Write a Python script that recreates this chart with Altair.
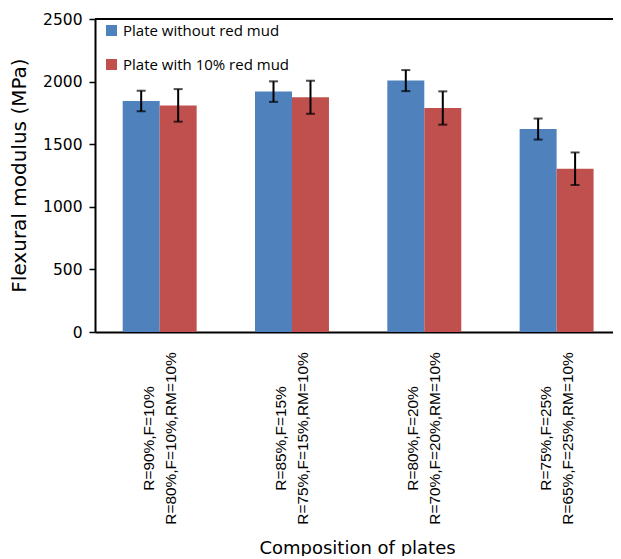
import altair as alt
import pandas as pd

categories = [
    "R=90%,F=10%|R=80%,F=10%,RM=10%",
    "R=85%,F=15%|R=75%,F=15%,RM=10%",
    "R=80%,F=20%|R=70%,F=20%,RM=10%",
    "R=75%,F=25%|R=65%,F=25%,RM=10%",
]
series = ["Plate without  red mud", "Plate with  10% red mud"]
without_rm = [1845, 1920, 2008, 1621]
err_without = [82, 82, 84, 84]
with_rm = [1810, 1875, 1789, 1304]
err_with = [130, 132, 133, 130]
y_ticks = [0, 500, 1000, 1500, 2000, 2500]
colors = ["#4F81BD", "#C0504D"]

rows = []
for c, v, e in zip(categories, without_rm, err_without):
    rows.append({"cat": c, "series": series[0], "value": v, "lo": v - e, "hi": v + e})
for c, v, e in zip(categories, with_rm, err_with):
    rows.append({"cat": c, "series": series[1], "value": v, "lo": v - e, "hi": v + e})
df = pd.DataFrame(rows)

x_enc = alt.X(
    "cat:N",
    sort=categories,
    scale=alt.Scale(paddingInner=0.441, paddingOuter=0.178, align=0.588),
    axis=alt.Axis(
        title="Composition of plates",
        labelExpr="split(datum.value, '|')",
        labelAngle=270,
        labelAlign="center",
        labelBaseline="middle",
        labelPadding=106,
        labelOffset=-11,
        labelLineHeight=22,
        labelFont="Liberation Sans",
        labelFontSize=15.4,
        labelColor="#000000",
        labelLimit=400,
        ticks=False,
        tickSize=0,
        domainColor="#000000",
        domainWidth=2,
        titleFont="DejaVu Sans",
        titleFontSize=18,
        titleFontWeight="normal",
        titleColor="#000000",
        titleX=262,
        titleY=216,
        titleAlign="center",
        titleBaseline="middle",
    ),
)
xoff = alt.XOffset("series:N", sort=series, scale=alt.Scale(paddingInner=0, paddingOuter=0))
y_scale = alt.Scale(domain=[0, 2500], nice=False)

bars = alt.Chart(df).mark_bar().encode(
    x=x_enc,
    xOffset=xoff,
    y=alt.Y(
        "value:Q",
        scale=y_scale,
        axis=alt.Axis(
            title="Flexural modulus (MPa)",
            values=y_ticks,
            format="d",
            grid=False,
            labelFont="DejaVu Sans",
            labelFontSize=15.5,
            labelColor="#000000",
            labelPadding=7,
            tickSize=6,
            tickColor="#000000",
            tickWidth=1.5,
            domainColor="#000000",
            domainWidth=2,
            titleFont="DejaVu Sans",
            titleFontSize=20,
            titleFontWeight="normal",
            titleColor="#000000",
            titleAngle=270,
            titleX=-76,
            titleY=156,
            titleAlign="center",
            titleBaseline="middle",
        ),
    ),
    color=alt.Color(
        "series:N",
        sort=series,
        scale=alt.Scale(domain=series, range=colors),
        legend=alt.Legend(
            title=None,
            orient="none",
            legendX=9,
            legendY=4,
            padding=0,
            symbolType="square",
            symbolSize=121,
            symbolStrokeWidth=0,
            labelFont="Open Sans",
            labelFontSize=15,
            labelColor="#000000",
            labelOffset=4,
            rowPadding=18,
            labelLimit=400,
        ),
    ),
)

rules = alt.Chart(df).mark_rule(color="#000000", strokeWidth=2).encode(
    x=alt.X("cat:N", sort=categories),
    xOffset=xoff,
    y=alt.Y("lo:Q", scale=y_scale),
    y2="hi:Q",
)
caps_hi = alt.Chart(df).mark_tick(color="#000000", thickness=2, size=9).encode(
    x=alt.X("cat:N", sort=categories),
    xOffset=xoff,
    y=alt.Y("hi:Q", scale=y_scale),
)
caps_lo = alt.Chart(df).mark_tick(color="#000000", thickness=2, size=9).encode(
    x=alt.X("cat:N", sort=categories),
    xOffset=xoff,
    y=alt.Y("lo:Q", scale=y_scale),
)
top_line = alt.Chart(pd.DataFrame({"y": [2500]})).mark_rule(color="#000000", strokeWidth=2).encode(
    y=alt.Y("y:Q", scale=y_scale)
)

chart = (
    alt.layer(bars, rules, caps_hi, caps_lo, top_line)
    .properties(
        width=518,
        height=313,
        autosize=alt.AutoSizeParams(type="none"),
        padding={"left": 87, "top": 11, "right": 0, "bottom": 224},
    )
    .configure_view(stroke=None)
    .configure(background="#ffffff")
)

chart.save("out.html", embed_options={"renderer": "svg", "actions": False})
